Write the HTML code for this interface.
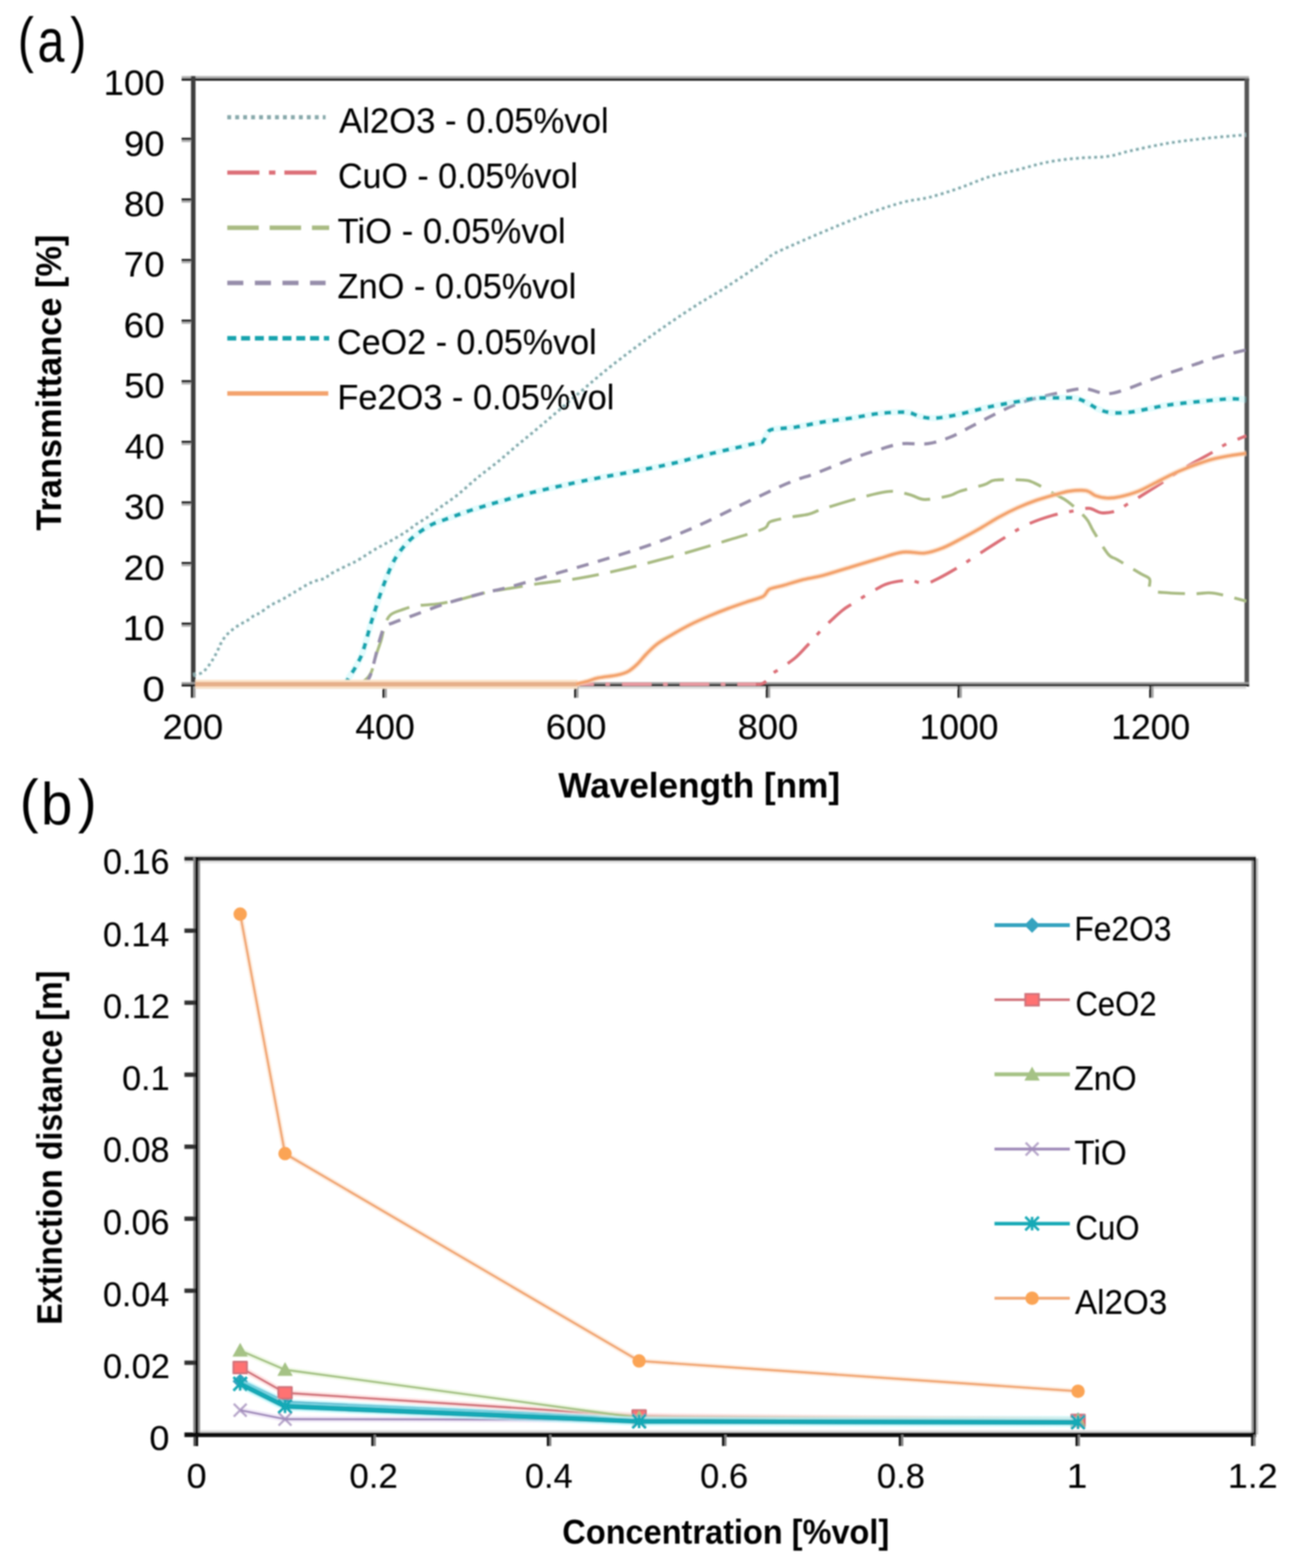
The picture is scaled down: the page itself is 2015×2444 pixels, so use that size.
<!DOCTYPE html>
<html lang="en"><head><meta charset="utf-8"><title>Transmittance and extinction distance of nanofluids</title>
<style>
html,body{margin:0;padding:0;background:#fff;}
body{width:2015px;height:2444px;overflow:hidden;}
svg{display:block;font-family:"Liberation Sans",Arial,sans-serif;}
</style></head><body>
<svg width="2015" height="2444" viewBox="0 0 2015 2444">
<defs><filter id="soft" x="0" y="0" width="2015" height="2444" filterUnits="userSpaceOnUse"><feGaussianBlur stdDeviation="1.1"/></filter></defs>
<rect width="2015" height="2444" fill="#ffffff"/>
<g filter="url(#soft)">
<g stroke-linejoin="round">
<rect x="283.00" y="118.60" width="1663.50" height="3.40" fill="#adadad"/>
<rect x="283.00" y="122.00" width="1663.50" height="3.70" fill="#161616"/>
<rect x="1939.50" y="122.00" width="7.00" height="947.80" fill="#555555"/>
<rect x="297.60" y="118.60" width="7.10" height="951.20" fill="#3d3d3d"/>
<rect x="297.60" y="1069.80" width="3.60" height="17.80" fill="#101010"/>
<rect x="301.20" y="1069.80" width="3.50" height="17.80" fill="#999999"/>
<rect x="283.00" y="1063.30" width="1663.50" height="3.70" fill="#9c9c9c"/>
<rect x="283.00" y="1066.60" width="1663.50" height="3.40" fill="#1a1a1a"/>
<rect x="304.70" y="1069.80" width="1637.30" height="3.90" fill="#dddddd"/>
<rect x="283.00" y="214.76" width="14.60" height="3.60" fill="#1c1c1c"/>
<rect x="283.00" y="218.36" width="14.60" height="3.10" fill="#b0b0b0"/>
<rect x="283.00" y="309.22" width="14.60" height="3.60" fill="#1c1c1c"/>
<rect x="283.00" y="312.82" width="14.60" height="3.10" fill="#b0b0b0"/>
<rect x="283.00" y="403.68" width="14.60" height="3.60" fill="#1c1c1c"/>
<rect x="283.00" y="407.28" width="14.60" height="3.10" fill="#b0b0b0"/>
<rect x="283.00" y="498.14" width="14.60" height="3.60" fill="#1c1c1c"/>
<rect x="283.00" y="501.74" width="14.60" height="3.10" fill="#b0b0b0"/>
<rect x="283.00" y="592.60" width="14.60" height="3.60" fill="#1c1c1c"/>
<rect x="283.00" y="596.20" width="14.60" height="3.10" fill="#b0b0b0"/>
<rect x="283.00" y="687.06" width="14.60" height="3.60" fill="#1c1c1c"/>
<rect x="283.00" y="690.66" width="14.60" height="3.10" fill="#b0b0b0"/>
<rect x="283.00" y="781.52" width="14.60" height="3.60" fill="#1c1c1c"/>
<rect x="283.00" y="785.12" width="14.60" height="3.10" fill="#b0b0b0"/>
<rect x="283.00" y="875.98" width="14.60" height="3.60" fill="#1c1c1c"/>
<rect x="283.00" y="879.58" width="14.60" height="3.10" fill="#b0b0b0"/>
<rect x="283.00" y="970.44" width="14.60" height="3.60" fill="#1c1c1c"/>
<rect x="283.00" y="974.04" width="14.60" height="3.10" fill="#b0b0b0"/>
<rect x="596.10" y="1069.80" width="3.40" height="17.80" fill="#161616"/>
<rect x="599.50" y="1069.80" width="3.40" height="17.80" fill="#a0a0a0"/>
<rect x="894.80" y="1069.80" width="3.40" height="17.80" fill="#161616"/>
<rect x="898.20" y="1069.80" width="3.40" height="17.80" fill="#a0a0a0"/>
<rect x="1193.50" y="1069.80" width="3.40" height="17.80" fill="#161616"/>
<rect x="1196.90" y="1069.80" width="3.40" height="17.80" fill="#a0a0a0"/>
<rect x="1492.20" y="1069.80" width="3.40" height="17.80" fill="#161616"/>
<rect x="1495.60" y="1069.80" width="3.40" height="17.80" fill="#a0a0a0"/>
<rect x="1790.90" y="1069.80" width="3.40" height="17.80" fill="#161616"/>
<rect x="1794.30" y="1069.80" width="3.40" height="17.80" fill="#a0a0a0"/>
<path d="M301.0,1052.0C303.3,1051.5 311.0,1050.6 314.6,1048.7C318.2,1046.8 320.2,1043.5 322.6,1040.7C325.0,1037.9 327.0,1035.0 329.0,1032.0C331.0,1029.0 332.9,1026.1 334.7,1022.8C336.5,1019.5 338.2,1015.9 339.9,1012.4C341.6,1008.9 342.9,1005.2 344.8,1001.8C346.7,998.3 349.0,994.7 351.4,991.7C353.8,988.7 356.5,986.3 359.2,983.9C361.9,981.5 364.8,979.4 367.8,977.3C370.8,975.2 374.2,973.3 377.3,971.5C380.4,969.7 383.5,968.4 386.6,966.4C389.7,964.4 392.9,961.3 396.1,959.4C399.3,957.5 401.8,957.4 405.9,954.8C410.0,952.2 415.3,947.5 421.0,944.0C426.7,940.5 433.8,937.6 440.1,934.1C446.4,930.6 451.0,927.6 458.6,923.2C466.2,918.8 478.0,911.2 485.9,907.6C493.8,904.0 501.1,903.7 506.0,901.5C510.9,899.3 509.9,897.6 515.4,894.4C520.9,891.2 532.4,885.7 539.2,882.3C546.0,878.9 548.4,878.5 556.1,874.1C563.8,869.7 577.3,860.5 585.3,855.8C593.3,851.1 596.3,850.0 604.0,845.7C611.7,841.4 623.8,834.6 631.4,829.8C639.0,824.9 643.4,820.7 649.4,816.6C655.4,812.5 661.7,809.4 667.4,805.4C673.1,801.4 676.5,797.8 683.8,792.4C691.1,787.0 701.2,780.7 711.2,772.8C721.2,764.9 732.8,753.9 743.7,744.9C754.6,735.9 767.2,726.8 776.8,719.0C786.4,711.2 791.8,706.0 801.3,698.0C810.8,690.0 823.0,680.2 834.0,671.0C845.0,661.8 854.3,653.8 867.0,643.0C879.7,632.2 895.6,618.2 910.0,606.0C924.4,593.8 935.7,583.7 953.5,569.7C971.3,555.7 995.7,537.3 1016.8,522.2C1037.9,507.1 1061.0,491.5 1080.2,479.0C1099.4,466.5 1114.1,458.8 1132.0,447.3C1149.9,435.8 1175.6,418.5 1187.8,410.0C1200.0,401.5 1196.3,401.2 1205.0,396.2C1213.7,391.2 1224.5,386.9 1240.0,380.0C1255.5,373.1 1278.7,363.0 1298.0,355.0C1317.3,347.0 1337.6,338.5 1356.0,331.8C1374.4,325.1 1392.8,319.1 1408.3,315.0C1423.8,310.9 1434.4,311.1 1448.9,307.4C1463.4,303.7 1479.8,298.3 1495.3,293.0C1510.8,287.7 1526.2,280.3 1541.7,275.5C1557.2,270.7 1572.5,267.9 1588.0,264.0C1603.5,260.1 1619.0,255.2 1634.5,252.3C1650.0,249.4 1665.5,247.9 1681.0,246.5C1696.5,245.1 1713.8,245.5 1727.3,243.6C1740.8,241.7 1746.5,238.4 1762.0,235.0C1777.5,231.6 1800.7,226.5 1820.0,223.3C1839.3,220.1 1857.7,218.0 1878.0,215.8C1898.3,213.6 1931.3,211.0 1942.0,210.0" fill="none" stroke="#c8f2f4" stroke-width="7" stroke-dasharray="4.5 5" opacity="0.5"/>
<path d="M301.0,1052.0C303.3,1051.5 311.0,1050.6 314.6,1048.7C318.2,1046.8 320.2,1043.5 322.6,1040.7C325.0,1037.9 327.0,1035.0 329.0,1032.0C331.0,1029.0 332.9,1026.1 334.7,1022.8C336.5,1019.5 338.2,1015.9 339.9,1012.4C341.6,1008.9 342.9,1005.2 344.8,1001.8C346.7,998.3 349.0,994.7 351.4,991.7C353.8,988.7 356.5,986.3 359.2,983.9C361.9,981.5 364.8,979.4 367.8,977.3C370.8,975.2 374.2,973.3 377.3,971.5C380.4,969.7 383.5,968.4 386.6,966.4C389.7,964.4 392.9,961.3 396.1,959.4C399.3,957.5 401.8,957.4 405.9,954.8C410.0,952.2 415.3,947.5 421.0,944.0C426.7,940.5 433.8,937.6 440.1,934.1C446.4,930.6 451.0,927.6 458.6,923.2C466.2,918.8 478.0,911.2 485.9,907.6C493.8,904.0 501.1,903.7 506.0,901.5C510.9,899.3 509.9,897.6 515.4,894.4C520.9,891.2 532.4,885.7 539.2,882.3C546.0,878.9 548.4,878.5 556.1,874.1C563.8,869.7 577.3,860.5 585.3,855.8C593.3,851.1 596.3,850.0 604.0,845.7C611.7,841.4 623.8,834.6 631.4,829.8C639.0,824.9 643.4,820.7 649.4,816.6C655.4,812.5 661.7,809.4 667.4,805.4C673.1,801.4 676.5,797.8 683.8,792.4C691.1,787.0 701.2,780.7 711.2,772.8C721.2,764.9 732.8,753.9 743.7,744.9C754.6,735.9 767.2,726.8 776.8,719.0C786.4,711.2 791.8,706.0 801.3,698.0C810.8,690.0 823.0,680.2 834.0,671.0C845.0,661.8 854.3,653.8 867.0,643.0C879.7,632.2 895.6,618.2 910.0,606.0C924.4,593.8 935.7,583.7 953.5,569.7C971.3,555.7 995.7,537.3 1016.8,522.2C1037.9,507.1 1061.0,491.5 1080.2,479.0C1099.4,466.5 1114.1,458.8 1132.0,447.3C1149.9,435.8 1175.6,418.5 1187.8,410.0C1200.0,401.5 1196.3,401.2 1205.0,396.2C1213.7,391.2 1224.5,386.9 1240.0,380.0C1255.5,373.1 1278.7,363.0 1298.0,355.0C1317.3,347.0 1337.6,338.5 1356.0,331.8C1374.4,325.1 1392.8,319.1 1408.3,315.0C1423.8,310.9 1434.4,311.1 1448.9,307.4C1463.4,303.7 1479.8,298.3 1495.3,293.0C1510.8,287.7 1526.2,280.3 1541.7,275.5C1557.2,270.7 1572.5,267.9 1588.0,264.0C1603.5,260.1 1619.0,255.2 1634.5,252.3C1650.0,249.4 1665.5,247.9 1681.0,246.5C1696.5,245.1 1713.8,245.5 1727.3,243.6C1740.8,241.7 1746.5,238.4 1762.0,235.0C1777.5,231.6 1800.7,226.5 1820.0,223.3C1839.3,220.1 1857.7,218.0 1878.0,215.8C1898.3,213.6 1931.3,211.0 1942.0,210.0" fill="none" stroke="#88a9ab" stroke-width="4.0" stroke-dasharray="4.5 5" />
<path d="M301,1066.6L1178,1066.6" fill="none" stroke="#e79aa1" stroke-width="5.5" stroke-dasharray="46 18 7 18.85" stroke-dashoffset="50.35"/>
<path d="M1178.0,1066.6C1179.3,1066.5 1183.5,1066.9 1186.0,1066.2C1188.5,1065.5 1190.8,1064.2 1193.0,1062.5C1195.2,1060.8 1197.0,1058.2 1199.0,1056.0C1201.0,1053.8 1202.2,1051.3 1205.0,1049.0C1207.8,1046.7 1210.2,1046.0 1216.0,1042.0C1221.8,1038.0 1232.9,1030.9 1240.0,1024.8C1247.1,1018.7 1251.5,1013.1 1258.7,1005.5C1265.9,997.9 1274.1,987.9 1283.0,979.0C1291.9,970.1 1304.5,958.3 1312.0,952.0C1319.5,945.7 1319.6,946.5 1327.8,941.3C1336.0,936.1 1352.3,926.0 1361.0,921.0C1369.7,916.0 1373.2,913.5 1379.7,911.0C1386.2,908.5 1393.3,907.0 1400.0,906.0C1406.7,905.0 1413.1,904.4 1420.0,905.0C1426.9,905.6 1434.6,910.1 1441.6,909.6C1448.6,909.1 1452.7,906.3 1461.8,901.8C1470.9,897.3 1484.5,889.5 1496.0,882.5C1507.5,875.5 1519.7,867.2 1531.0,860.0C1542.3,852.8 1552.5,846.0 1564.0,839.0C1575.5,832.0 1587.3,823.9 1600.0,818.0C1612.7,812.1 1626.7,807.3 1640.0,803.5C1653.3,799.7 1670.3,796.9 1680.0,795.0C1689.7,793.1 1691.9,791.7 1698.0,792.4C1704.1,793.1 1709.6,798.6 1716.6,799.3C1723.5,800.0 1733.0,798.6 1739.7,796.4C1746.4,794.1 1751.5,789.1 1757.0,785.8C1762.5,782.4 1764.6,781.3 1772.8,776.3C1781.0,771.2 1794.7,762.8 1806.0,755.5C1817.3,748.2 1829.2,739.5 1840.5,732.5C1851.8,725.5 1865.4,718.4 1873.6,713.8C1881.8,709.2 1883.7,708.4 1889.4,705.0C1895.1,701.6 1899.2,697.9 1908.0,693.6C1916.8,689.3 1936.3,681.6 1942.0,679.2" fill="none" stroke="#dc6f78" stroke-width="4.8" stroke-dasharray="46 18 7 18.85" stroke-dashoffset="28.85"/>
<path d="M550.7,1066.0C553.1,1065.5 560.5,1065.8 565.0,1063.0C569.5,1060.2 574.6,1055.6 578.0,1049.0C581.4,1042.4 582.6,1032.0 585.3,1023.4C588.0,1014.8 591.6,1005.7 594.0,997.5C596.4,989.3 597.3,980.9 599.7,974.4C602.1,967.9 604.0,962.5 608.3,958.6C612.6,954.7 618.9,953.2 625.6,950.8C632.3,948.4 639.1,945.8 648.7,944.2C658.3,942.6 672.7,942.8 683.2,941.3C693.8,939.8 700.0,938.4 712.0,935.5C724.0,932.6 744.2,926.6 755.2,924.0C766.2,921.4 764.1,922.1 778.3,919.7C792.5,917.3 819.6,912.7 840.6,909.6C861.6,906.5 882.9,904.6 904.0,901.0C925.1,897.4 947.2,892.6 967.4,888.0C987.6,883.4 1005.8,878.6 1025.0,873.6C1044.2,868.6 1064.4,863.1 1082.6,857.8C1100.8,852.5 1116.7,847.5 1134.4,842.0C1152.1,836.5 1178.0,829.5 1189.0,824.7C1200.0,819.9 1193.5,816.1 1200.7,813.0C1207.9,809.9 1222.1,807.9 1232.0,806.0C1241.9,804.1 1251.5,803.8 1260.0,801.6C1268.5,799.4 1269.7,797.3 1283.2,793.0C1296.7,788.7 1324.5,780.1 1340.8,775.7C1357.1,771.3 1370.9,768.0 1381.0,766.5C1391.1,765.0 1394.6,766.0 1401.3,767.0C1408.0,768.0 1414.7,770.3 1421.4,772.2C1428.1,774.1 1432.0,778.5 1441.6,778.6C1451.2,778.7 1469.9,775.0 1479.0,772.8C1488.1,770.6 1487.2,768.5 1496.3,765.6C1505.4,762.7 1524.7,758.4 1533.8,755.5C1542.9,752.6 1540.9,749.5 1551.0,748.3C1561.1,747.1 1584.2,747.6 1594.3,748.3C1604.4,749.0 1603.3,749.0 1611.5,752.6C1619.7,756.2 1634.5,765.2 1643.2,770.0C1651.9,774.8 1655.2,775.2 1663.4,781.4C1671.6,787.6 1685.5,799.7 1692.2,807.4C1698.9,815.1 1698.0,818.1 1703.7,827.5C1709.5,836.9 1720.5,856.0 1726.7,863.5C1732.9,871.0 1732.6,867.2 1741.0,872.2C1749.4,877.2 1768.6,888.8 1777.0,893.8C1785.4,898.8 1788.8,898.1 1791.5,902.4C1794.2,906.7 1788.2,916.1 1793.0,919.7C1797.8,923.3 1809.0,923.0 1820.3,924.0C1831.6,925.0 1850.0,925.5 1860.6,925.5C1871.2,925.5 1876.5,923.8 1883.7,924.0C1890.9,924.2 1894.1,924.7 1903.8,926.9C1913.5,929.1 1935.6,935.3 1942.0,937.0" fill="none" stroke="#a9bb83" stroke-width="4.6" stroke-dasharray="42 18" />
<path d="M570.0,1066.0C571.1,1063.9 574.5,1059.3 576.7,1053.6C578.9,1047.9 580.4,1041.8 583.0,1032.0C585.6,1022.2 589.7,1003.7 592.5,994.6C595.3,985.5 596.1,981.4 599.7,977.3C603.3,973.2 606.4,973.2 614.1,970.1C621.8,967.0 634.8,962.7 645.8,958.6C656.8,954.5 669.3,949.5 680.3,945.6C691.3,941.8 699.5,939.1 712.0,935.5C724.5,931.9 741.0,927.6 755.2,924.0C769.4,920.4 778.4,919.1 797.4,914.0C816.4,908.9 845.4,900.2 869.4,893.2C893.4,886.2 917.4,879.6 941.4,872.2C965.4,864.9 990.0,857.5 1013.5,849.1C1037.0,840.7 1060.0,831.6 1082.6,821.8C1105.1,811.9 1128.2,799.9 1148.8,790.0C1169.4,780.1 1191.2,769.7 1206.4,762.7C1221.6,755.8 1230.1,752.1 1240.0,748.3C1249.9,744.5 1256.2,743.3 1266.0,739.7C1275.8,736.1 1287.5,731.3 1299.0,726.7C1310.5,722.1 1323.2,716.6 1335.0,712.3C1346.8,708.0 1357.8,704.2 1369.6,700.8C1381.4,697.3 1392.9,693.1 1405.6,691.6C1418.3,690.1 1433.5,693.3 1446.0,691.6C1458.5,689.9 1469.2,686.0 1480.5,681.5C1491.8,677.0 1502.6,670.5 1513.6,664.8C1524.6,659.1 1535.7,653.0 1546.7,647.5C1557.8,642.0 1568.6,636.2 1579.9,631.7C1591.2,627.2 1602.4,624.0 1614.4,620.7C1626.4,617.4 1639.4,614.5 1651.9,612.0C1664.4,609.5 1677.2,605.5 1689.3,605.8C1701.4,606.1 1713.2,613.6 1724.4,613.7C1735.6,613.8 1745.2,609.7 1756.3,606.2C1767.4,602.7 1779.4,597.2 1791.0,592.8C1802.6,588.4 1814.4,584.0 1826.0,580.0C1837.6,576.0 1849.1,572.4 1860.7,568.5C1872.3,564.6 1882.0,560.8 1895.5,556.9C1909.0,553.0 1934.2,547.2 1942.0,545.3" fill="none" stroke="#968daa" stroke-width="5.0" stroke-dasharray="19 15" />
<path d="M537.8,1066.0C539.0,1064.0 542.4,1058.2 545.0,1054.0C547.6,1049.8 550.5,1046.3 553.6,1040.7C556.7,1035.1 560.8,1027.7 563.7,1020.5C566.6,1013.3 568.5,1005.7 570.9,997.5C573.3,989.3 575.7,979.7 578.1,971.5C580.5,963.3 582.7,956.6 585.3,948.5C587.9,940.4 591.0,930.8 593.9,922.6C596.8,914.4 599.7,906.7 602.6,899.5C605.5,892.3 608.1,885.6 611.2,879.4C614.3,873.2 617.0,868.1 621.3,862.1C625.6,856.1 631.6,848.9 637.1,843.4C642.6,837.9 648.4,833.3 654.4,829.0C660.4,824.7 666.9,820.6 673.1,817.5C679.4,814.4 685.4,812.7 691.9,810.3C698.4,807.9 705.3,805.4 712.0,803.0C718.7,800.6 725.0,798.3 732.2,795.9C739.4,793.5 747.5,791.0 755.2,788.7C762.9,786.4 765.5,785.6 778.3,782.0C791.1,778.4 809.1,772.6 832.0,767.0C854.9,761.4 890.0,753.6 915.5,748.3C941.0,743.0 962.6,739.7 984.7,735.4C1006.8,731.1 1027.1,727.2 1048.0,722.4C1068.9,717.6 1088.9,711.7 1110.0,706.6C1131.1,701.5 1161.5,694.7 1174.7,691.6C1187.9,688.5 1185.2,691.1 1189.0,687.8C1192.8,684.5 1194.4,675.2 1197.8,672.0C1201.2,668.8 1202.3,669.5 1209.3,668.5C1216.3,667.5 1227.7,667.5 1240.0,665.7C1252.3,663.9 1268.8,659.9 1283.2,657.6C1297.6,655.3 1312.0,654.0 1326.4,651.8C1340.8,649.6 1355.2,646.1 1369.6,644.6C1384.0,643.1 1402.2,641.9 1412.8,642.6C1423.4,643.3 1425.8,647.5 1433.0,649.0C1440.2,650.5 1445.9,652.3 1456.0,651.8C1466.1,651.3 1479.1,649.0 1493.5,646.0C1507.9,643.0 1527.1,637.3 1542.4,634.0C1557.8,630.7 1573.6,628.2 1585.6,626.0C1597.6,623.8 1602.9,621.7 1614.4,620.7C1625.9,619.7 1644.4,620.2 1654.7,620.2C1665.0,620.2 1669.8,619.5 1676.3,620.7C1682.8,621.9 1687.8,624.6 1693.6,627.4C1699.4,630.2 1704.7,634.8 1710.9,637.4C1717.1,640.0 1722.8,642.3 1731.0,643.2C1739.2,644.1 1750.2,643.6 1759.8,642.6C1769.4,641.6 1779.0,639.2 1788.6,637.4C1798.2,635.6 1807.8,633.2 1817.4,631.7C1827.0,630.2 1836.6,629.3 1846.2,628.2C1855.8,627.1 1865.4,626.2 1875.0,625.3C1884.6,624.3 1895.6,623.1 1903.8,622.5C1912.0,621.9 1917.6,621.5 1924.0,621.6C1930.4,621.7 1939.0,622.8 1942.0,623.0" fill="none" stroke="#9af3f7" stroke-width="10" opacity="0.28"/>
<path d="M537.8,1066.0C539.0,1064.0 542.4,1058.2 545.0,1054.0C547.6,1049.8 550.5,1046.3 553.6,1040.7C556.7,1035.1 560.8,1027.7 563.7,1020.5C566.6,1013.3 568.5,1005.7 570.9,997.5C573.3,989.3 575.7,979.7 578.1,971.5C580.5,963.3 582.7,956.6 585.3,948.5C587.9,940.4 591.0,930.8 593.9,922.6C596.8,914.4 599.7,906.7 602.6,899.5C605.5,892.3 608.1,885.6 611.2,879.4C614.3,873.2 617.0,868.1 621.3,862.1C625.6,856.1 631.6,848.9 637.1,843.4C642.6,837.9 648.4,833.3 654.4,829.0C660.4,824.7 666.9,820.6 673.1,817.5C679.4,814.4 685.4,812.7 691.9,810.3C698.4,807.9 705.3,805.4 712.0,803.0C718.7,800.6 725.0,798.3 732.2,795.9C739.4,793.5 747.5,791.0 755.2,788.7C762.9,786.4 765.5,785.6 778.3,782.0C791.1,778.4 809.1,772.6 832.0,767.0C854.9,761.4 890.0,753.6 915.5,748.3C941.0,743.0 962.6,739.7 984.7,735.4C1006.8,731.1 1027.1,727.2 1048.0,722.4C1068.9,717.6 1088.9,711.7 1110.0,706.6C1131.1,701.5 1161.5,694.7 1174.7,691.6C1187.9,688.5 1185.2,691.1 1189.0,687.8C1192.8,684.5 1194.4,675.2 1197.8,672.0C1201.2,668.8 1202.3,669.5 1209.3,668.5C1216.3,667.5 1227.7,667.5 1240.0,665.7C1252.3,663.9 1268.8,659.9 1283.2,657.6C1297.6,655.3 1312.0,654.0 1326.4,651.8C1340.8,649.6 1355.2,646.1 1369.6,644.6C1384.0,643.1 1402.2,641.9 1412.8,642.6C1423.4,643.3 1425.8,647.5 1433.0,649.0C1440.2,650.5 1445.9,652.3 1456.0,651.8C1466.1,651.3 1479.1,649.0 1493.5,646.0C1507.9,643.0 1527.1,637.3 1542.4,634.0C1557.8,630.7 1573.6,628.2 1585.6,626.0C1597.6,623.8 1602.9,621.7 1614.4,620.7C1625.9,619.7 1644.4,620.2 1654.7,620.2C1665.0,620.2 1669.8,619.5 1676.3,620.7C1682.8,621.9 1687.8,624.6 1693.6,627.4C1699.4,630.2 1704.7,634.8 1710.9,637.4C1717.1,640.0 1722.8,642.3 1731.0,643.2C1739.2,644.1 1750.2,643.6 1759.8,642.6C1769.4,641.6 1779.0,639.2 1788.6,637.4C1798.2,635.6 1807.8,633.2 1817.4,631.7C1827.0,630.2 1836.6,629.3 1846.2,628.2C1855.8,627.1 1865.4,626.2 1875.0,625.3C1884.6,624.3 1895.6,623.1 1903.8,622.5C1912.0,621.9 1917.6,621.5 1924.0,621.6C1930.4,621.7 1939.0,622.8 1942.0,623.0" fill="none" stroke="#17a3ad" stroke-width="5.7" stroke-dasharray="10 10.5" />
<path d="M304.5,1066.6L900.0,1066.6" fill="none" stroke="#fbe3c9" stroke-width="14" />
<path d="M304.5,1066.6L903.0,1066.6" fill="none" stroke="#e6b08a" stroke-width="7" />
<path d="M898.0,1066.0C900.8,1065.3 909.2,1063.6 915.0,1062.0C920.8,1060.4 925.0,1058.1 932.8,1056.5C940.6,1054.9 953.9,1053.9 961.6,1052.2C969.3,1050.5 973.7,1049.3 979.0,1046.4C984.3,1043.5 988.5,1039.6 993.3,1035.0C998.1,1030.4 1002.4,1024.3 1007.7,1019.0C1013.0,1013.7 1018.3,1008.2 1025.0,1003.2C1031.7,998.2 1039.4,993.8 1048.0,988.8C1056.6,983.8 1067.2,977.8 1076.8,973.0C1086.4,968.2 1096.0,964.1 1105.6,960.0C1115.2,955.9 1124.8,952.1 1134.4,948.5C1144.0,944.9 1154.1,941.5 1163.2,938.4C1172.3,935.3 1183.0,933.1 1189.0,929.8C1195.0,926.4 1193.9,921.2 1199.2,918.3C1204.5,915.4 1212.4,914.9 1220.8,912.5C1229.2,910.1 1239.2,906.5 1249.6,903.9C1260.0,901.3 1270.4,900.1 1283.2,896.7C1296.0,893.3 1312.0,888.0 1326.4,883.7C1340.8,879.4 1356.2,874.6 1369.6,870.7C1383.0,866.9 1395.0,862.1 1407.0,860.6C1419.0,859.1 1431.0,863.2 1441.6,862.0C1452.2,860.8 1460.8,857.3 1470.4,853.5C1480.0,849.7 1489.6,844.0 1499.2,839.0C1508.8,834.0 1518.4,828.7 1528.0,823.2C1537.6,817.7 1547.2,811.3 1556.8,806.0C1566.4,800.7 1576.0,795.8 1585.6,791.5C1595.2,787.2 1604.8,783.4 1614.4,780.0C1624.0,776.6 1634.6,773.8 1643.2,771.4C1651.8,769.0 1658.1,766.7 1666.3,765.6C1674.5,764.5 1685.2,763.5 1692.2,764.7C1699.2,765.9 1702.5,770.9 1708.0,772.8C1713.5,774.7 1719.1,776.1 1725.3,776.3C1731.5,776.5 1737.2,776.0 1745.4,774.2C1753.6,772.4 1764.6,769.4 1774.2,765.6C1783.8,761.8 1793.4,756.0 1803.0,751.2C1812.6,746.4 1822.2,741.1 1831.8,736.8C1841.4,732.5 1851.0,728.8 1860.6,725.3C1870.2,721.8 1879.8,718.3 1889.4,715.8C1899.0,713.2 1909.4,711.5 1918.2,710.0C1927.0,708.5 1938.0,707.2 1942.0,706.6" fill="none" stroke="#fbd3b4" stroke-width="9" opacity="0.6"/>
<path d="M898.0,1066.0C900.8,1065.3 909.2,1063.6 915.0,1062.0C920.8,1060.4 925.0,1058.1 932.8,1056.5C940.6,1054.9 953.9,1053.9 961.6,1052.2C969.3,1050.5 973.7,1049.3 979.0,1046.4C984.3,1043.5 988.5,1039.6 993.3,1035.0C998.1,1030.4 1002.4,1024.3 1007.7,1019.0C1013.0,1013.7 1018.3,1008.2 1025.0,1003.2C1031.7,998.2 1039.4,993.8 1048.0,988.8C1056.6,983.8 1067.2,977.8 1076.8,973.0C1086.4,968.2 1096.0,964.1 1105.6,960.0C1115.2,955.9 1124.8,952.1 1134.4,948.5C1144.0,944.9 1154.1,941.5 1163.2,938.4C1172.3,935.3 1183.0,933.1 1189.0,929.8C1195.0,926.4 1193.9,921.2 1199.2,918.3C1204.5,915.4 1212.4,914.9 1220.8,912.5C1229.2,910.1 1239.2,906.5 1249.6,903.9C1260.0,901.3 1270.4,900.1 1283.2,896.7C1296.0,893.3 1312.0,888.0 1326.4,883.7C1340.8,879.4 1356.2,874.6 1369.6,870.7C1383.0,866.9 1395.0,862.1 1407.0,860.6C1419.0,859.1 1431.0,863.2 1441.6,862.0C1452.2,860.8 1460.8,857.3 1470.4,853.5C1480.0,849.7 1489.6,844.0 1499.2,839.0C1508.8,834.0 1518.4,828.7 1528.0,823.2C1537.6,817.7 1547.2,811.3 1556.8,806.0C1566.4,800.7 1576.0,795.8 1585.6,791.5C1595.2,787.2 1604.8,783.4 1614.4,780.0C1624.0,776.6 1634.6,773.8 1643.2,771.4C1651.8,769.0 1658.1,766.7 1666.3,765.6C1674.5,764.5 1685.2,763.5 1692.2,764.7C1699.2,765.9 1702.5,770.9 1708.0,772.8C1713.5,774.7 1719.1,776.1 1725.3,776.3C1731.5,776.5 1737.2,776.0 1745.4,774.2C1753.6,772.4 1764.6,769.4 1774.2,765.6C1783.8,761.8 1793.4,756.0 1803.0,751.2C1812.6,746.4 1822.2,741.1 1831.8,736.8C1841.4,732.5 1851.0,728.8 1860.6,725.3C1870.2,721.8 1879.8,718.3 1889.4,715.8C1899.0,713.2 1909.4,711.5 1918.2,710.0C1927.0,708.5 1938.0,707.2 1942.0,706.6" fill="none" stroke="#f3a36d" stroke-width="4.6" />
</g>
<text transform="translate(161.53,148.10) scale(1.0175,1.0000)" font-size="56.00" stroke="#050505" stroke-width="0.2" fill="#050505">100</text>
<text transform="translate(193.14,242.56) scale(1.0177,1.0000)" font-size="56.00" stroke="#050505" stroke-width="0.2" fill="#050505">90</text>
<text transform="translate(193.14,337.02) scale(1.0177,1.0000)" font-size="56.00" stroke="#050505" stroke-width="0.2" fill="#050505">80</text>
<text transform="translate(192.84,431.48) scale(1.0226,1.0000)" font-size="56.00" stroke="#050505" stroke-width="0.2" fill="#050505">70</text>
<text transform="translate(192.84,525.94) scale(1.0226,1.0000)" font-size="56.00" stroke="#050505" stroke-width="0.2" fill="#050505">60</text>
<text transform="translate(193.43,620.40) scale(1.0128,1.0000)" font-size="56.00" stroke="#050505" stroke-width="0.2" fill="#050505">50</text>
<text transform="translate(194.59,714.86) scale(0.9936,1.0000)" font-size="56.00" stroke="#050505" stroke-width="0.2" fill="#050505">40</text>
<text transform="translate(193.43,809.32) scale(1.0128,1.0000)" font-size="56.00" stroke="#050505" stroke-width="0.2" fill="#050505">30</text>
<text transform="translate(192.84,903.78) scale(1.0226,1.0000)" font-size="56.00" stroke="#050505" stroke-width="0.2" fill="#050505">20</text>
<text transform="translate(191.30,998.24) scale(1.0482,1.0000)" font-size="56.00" stroke="#050505" stroke-width="0.2" fill="#050505">10</text>
<text transform="translate(221.90,1092.70) scale(1.1161,1.0000)" font-size="56.00" stroke="#050505" stroke-width="0.2" fill="#050505">0</text>
<text transform="translate(253.22,1151.60) scale(1.0090,1.0000)" font-size="56.14" stroke="#050505" stroke-width="0.2" fill="#050505">200</text>
<text transform="translate(553.64,1151.60) scale(0.9902,1.0000)" font-size="56.14" stroke="#050505" stroke-width="0.2" fill="#050505">400</text>
<text transform="translate(850.62,1151.60) scale(1.0090,1.0000)" font-size="56.14" stroke="#050505" stroke-width="0.2" fill="#050505">600</text>
<text transform="translate(1149.61,1151.60) scale(1.0058,1.0000)" font-size="56.14" stroke="#050505" stroke-width="0.2" fill="#050505">800</text>
<text transform="translate(1432.95,1151.60) scale(0.9853,1.0000)" font-size="56.14" stroke="#050505" stroke-width="0.2" fill="#050505">1000</text>
<text transform="translate(1731.65,1151.60) scale(0.9853,1.0000)" font-size="56.14" stroke="#050505" stroke-width="0.2" fill="#050505">1200</text>
<text transform="translate(870.10,1242.80) scale(0.9894,1.0000)" font-size="55.36" font-weight="bold" fill="#050505">Wavelength [nm]</text>
<text transform="translate(95.00,827.04) rotate(-90) scale(0.9780,1)" font-size="54.78" font-weight="bold" fill="#050505">Transmittance [%]</text>
<text transform="scale(0.8000,1)" x="34.73 73.11 136.78" y="94.30 96.40 94.30" font-size="94.00" fill="#050505">(a)</text>
<line x1="354.20" y1="182.80" x2="507.40" y2="182.80" stroke="#88a9ab" stroke-width="6.5" stroke-dasharray="6 6.4"/>
<text transform="translate(528.50,207.10) scale(0.9726,1.0000)" font-size="55.51" stroke="#050505" stroke-width="0.2" fill="#050505">Al2O3 - 0.05%vol</text>
<line x1="354.20" y1="268.90" x2="494.30" y2="268.90" stroke="#dc6f78" stroke-width="6.5" stroke-dasharray="50 15 10 14"/>
<text transform="translate(526.85,293.20) scale(0.9540,1.0000)" font-size="55.51" stroke="#050505" stroke-width="0.2" fill="#050505">CuO - 0.05%vol</text>
<line x1="354.20" y1="355.00" x2="513.00" y2="355.00" stroke="#a9bb83" stroke-width="7" stroke-dasharray="49 17"/>
<text transform="translate(525.92,379.30) scale(0.9743,1.0000)" font-size="55.51" stroke="#050505" stroke-width="0.2" fill="#050505">TiO - 0.05%vol</text>
<line x1="354.20" y1="441.10" x2="507.40" y2="441.10" stroke="#968daa" stroke-width="7" stroke-dasharray="25 18"/>
<text transform="translate(525.99,465.40) scale(0.9650,1.0000)" font-size="55.51" stroke="#050505" stroke-width="0.2" fill="#050505">ZnO - 0.05%vol</text>
<line x1="354.20" y1="527.20" x2="513.00" y2="527.20" stroke="#17a3ad" stroke-width="7" stroke-dasharray="14 7.5"/>
<text transform="translate(525.34,551.50) scale(0.9572,1.0000)" font-size="55.51" stroke="#050505" stroke-width="0.2" fill="#050505">CeO2 - 0.05%vol</text>
<line x1="354.20" y1="613.30" x2="511.60" y2="613.30" stroke="#f3a36d" stroke-width="7" />
<text transform="translate(525.71,637.60) scale(0.9651,1.0000)" font-size="55.51" stroke="#050505" stroke-width="0.2" fill="#050505">Fe2O3 - 0.05%vol</text>
<g stroke-linejoin="round">
<rect x="287.40" y="1331.80" width="1669.70" height="3.30" fill="#f0f0f0"/>
<rect x="287.40" y="1341.80" width="1666.60" height="3.70" fill="#e6e6e6"/>
<rect x="287.40" y="1335.00" width="1669.70" height="6.90" fill="#2e2e2e"/>
<rect x="1950.20" y="1341.80" width="3.90" height="891.20" fill="#999999"/>
<rect x="1957.10" y="1338.00" width="3.70" height="898.00" fill="#c8c8c8"/>
<rect x="1953.80" y="1338.00" width="3.60" height="902.00" fill="#000000"/>
<rect x="301.10" y="1335.10" width="3.90" height="904.90" fill="#8a8a8a"/>
<rect x="308.30" y="1341.80" width="3.60" height="891.20" fill="#8f8f8f"/>
<rect x="304.60" y="1335.10" width="4.10" height="918.90" fill="#000000"/>
<rect x="301.50" y="2240.00" width="3.50" height="14.00" fill="#555555"/>
<rect x="311.90" y="2229.30" width="1638.30" height="3.70" fill="#dedede"/>
<rect x="287.40" y="2232.80" width="1669.70" height="7.10" fill="#111111"/>
<rect x="287.40" y="1447.24" width="17.60" height="6.80" fill="#303030"/>
<rect x="287.40" y="1559.47" width="17.60" height="6.80" fill="#303030"/>
<rect x="287.40" y="1671.71" width="17.60" height="6.80" fill="#303030"/>
<rect x="287.40" y="1783.95" width="17.60" height="6.80" fill="#303030"/>
<rect x="287.40" y="1896.19" width="17.60" height="6.80" fill="#303030"/>
<rect x="287.40" y="2008.43" width="17.60" height="6.80" fill="#303030"/>
<rect x="287.40" y="2120.66" width="17.60" height="6.80" fill="#303030"/>
<rect x="578.70" y="2236.30" width="3.80" height="17.60" fill="#0a0a0a"/>
<rect x="582.50" y="2236.30" width="3.20" height="17.60" fill="#808080"/>
<rect x="852.20" y="2236.30" width="3.80" height="17.60" fill="#0a0a0a"/>
<rect x="856.00" y="2236.30" width="3.20" height="17.60" fill="#808080"/>
<rect x="1125.20" y="2236.30" width="3.80" height="17.60" fill="#0a0a0a"/>
<rect x="1129.00" y="2236.30" width="3.20" height="17.60" fill="#808080"/>
<rect x="1400.70" y="2236.30" width="3.80" height="17.60" fill="#0a0a0a"/>
<rect x="1404.50" y="2236.30" width="3.20" height="17.60" fill="#808080"/>
<rect x="1676.10" y="2236.30" width="3.80" height="17.60" fill="#0a0a0a"/>
<rect x="1679.90" y="2236.30" width="3.20" height="17.60" fill="#808080"/>
<rect x="1949.70" y="2236.30" width="3.80" height="17.60" fill="#0a0a0a"/>
<rect x="1953.50" y="2236.30" width="3.20" height="17.60" fill="#808080"/>
<path d="M374.3,2153.0L444.2,2187.0L996.0,2212.0L1680.0,2213.5" fill="none" stroke="#b5f3fa" stroke-width="13" opacity="0.6"/>
<path d="M374.3,2153.0L444.2,2187.0L996.0,2212.0L1680.0,2213.5" fill="none" stroke="#36a3bf" stroke-width="7" />
<path d="M374.3,2141L386.3,2153L374.3,2165L362.3,2153Z" fill="#36a3bf"/>
<path d="M444.2,2175L456.2,2187L444.2,2199L432.2,2187Z" fill="#36a3bf"/>
<path d="M996,2200L1008,2212L996,2224L984,2212Z" fill="#36a3bf"/>
<path d="M1680,2201.5L1692,2213.5L1680,2225.5L1668,2213.5Z" fill="#36a3bf"/>
<path d="M374.3,2131.4L444.2,2171.0L996.0,2207.0L1680.0,2214.0" fill="none" stroke="#ffd0d0" stroke-width="9.3" opacity="0.6"/>
<path d="M374.3,2131.4L444.2,2171.0L996.0,2207.0L1680.0,2214.0" fill="none" stroke="#d0727a" stroke-width="3.3" />
<rect x="363.8" y="2122.4" width="21.0" height="18.0" fill="#ff7272" stroke="#d0727a" stroke-width="3"/>
<rect x="433.7" y="2162.0" width="21.0" height="18.0" fill="#ff7272" stroke="#d0727a" stroke-width="3"/>
<rect x="985.5" y="2198.0" width="21.0" height="18.0" fill="#ff7272" stroke="#d0727a" stroke-width="3"/>
<rect x="1669.5" y="2205.0" width="21.0" height="18.0" fill="#ff7272" stroke="#d0727a" stroke-width="3"/>
<path d="M374.3,2105.0L444.2,2135.0L996.0,2210.0L1680.0,2214.0" fill="none" stroke="#e6f5d5" stroke-width="9.3" opacity="0.6"/>
<path d="M374.3,2105.0L444.2,2135.0L996.0,2210.0L1680.0,2214.0" fill="none" stroke="#a5c285" stroke-width="3.3" />
<path d="M374.3,2093L386.3,2114.6L362.3,2114.6Z" fill="#a5c285"/>
<path d="M444.2,2123L456.2,2144.6L432.2,2144.6Z" fill="#a5c285"/>
<path d="M996,2198L1008,2219.6L984,2219.6Z" fill="#a5c285"/>
<path d="M1680,2202L1692,2223.6L1668,2223.6Z" fill="#a5c285"/>
<path d="M374.3,2198.0L444.2,2212.0L996.0,2213.0L1680.0,2215.0" fill="none" stroke="#e8daf3" stroke-width="9.3" opacity="0.6"/>
<path d="M374.3,2198.0L444.2,2212.0L996.0,2213.0L1680.0,2215.0" fill="none" stroke="#a08bba" stroke-width="3.3" />
<path d="M364.3,2188L384.3,2208M364.3,2208L384.3,2188" stroke="#a08bba" stroke-width="3.5" fill="none" opacity="0.75"/>
<path d="M434.2,2202L454.2,2222M434.2,2222L454.2,2202" stroke="#a08bba" stroke-width="3.5" fill="none" opacity="0.75"/>
<path d="M986,2203L1006,2223M986,2223L1006,2203" stroke="#a08bba" stroke-width="3.5" fill="none" opacity="0.75"/>
<path d="M1670,2205L1690,2225M1670,2225L1690,2205" stroke="#a08bba" stroke-width="3.5" fill="none" opacity="0.75"/>
<path d="M374.3,2157.0L444.2,2192.0L996.0,2215.5L1680.0,2217.0" fill="none" stroke="#aef6fb" stroke-width="14" opacity="0.6"/>
<path d="M374.3,2157.0L444.2,2192.0L996.0,2215.5L1680.0,2217.0" fill="none" stroke="#12a9b6" stroke-width="8" />
<path d="M363.8,2146.5L384.8,2167.5M363.8,2167.5L384.8,2146.5M374.3,2146.5L374.3,2167.5" stroke="#12a9b6" stroke-width="4" fill="none"/>
<path d="M433.7,2181.5L454.7,2202.5M433.7,2202.5L454.7,2181.5M444.2,2181.5L444.2,2202.5" stroke="#12a9b6" stroke-width="4" fill="none"/>
<path d="M985.5,2205.0L1006.5,2226.0M985.5,2226.0L1006.5,2205.0M996,2205.0L996,2226.0" stroke="#12a9b6" stroke-width="4" fill="none"/>
<path d="M1669.5,2206.5L1690.5,2227.5M1669.5,2227.5L1690.5,2206.5M1680,2206.5L1680,2227.5" stroke="#12a9b6" stroke-width="4" fill="none"/>
<path d="M374.3,1424.8L444.2,1798.1L996.0,2121.3L1680.0,2168.5" fill="none" stroke="#fde3cb" stroke-width="8.6" opacity="0.6"/>
<path d="M374.3,1424.8L444.2,1798.1L996.0,2121.3L1680.0,2168.5" fill="none" stroke="#f1a876" stroke-width="3.6" />
<circle cx="374.3" cy="1424.8" r="10.5" fill="#fba455"/>
<circle cx="444.2" cy="1798.1" r="10.5" fill="#fba455"/>
<circle cx="996" cy="2121.3" r="10.5" fill="#fba455"/>
<circle cx="1680" cy="2168.5" r="10.5" fill="#fba455"/>
</g>
<text transform="translate(160.57,1362.40) scale(0.9757,1.0000)" font-size="54.57" stroke="#050505" stroke-width="0.2" fill="#050505">0.16</text>
<text transform="translate(160.58,1474.64) scale(0.9705,1.0000)" font-size="54.57" stroke="#050505" stroke-width="0.2" fill="#050505">0.14</text>
<text transform="translate(160.56,1586.88) scale(0.9809,1.0000)" font-size="54.57" stroke="#050505" stroke-width="0.2" fill="#050505">0.12</text>
<text transform="translate(190.16,1699.11) scale(0.9787,1.0000)" font-size="54.57" stroke="#050505" stroke-width="0.2" fill="#050505">0.1</text>
<text transform="translate(160.57,1811.35) scale(0.9757,1.0000)" font-size="54.57" stroke="#050505" stroke-width="0.2" fill="#050505">0.08</text>
<text transform="translate(160.57,1923.59) scale(0.9757,1.0000)" font-size="54.57" stroke="#050505" stroke-width="0.2" fill="#050505">0.06</text>
<text transform="translate(160.58,2035.83) scale(0.9705,1.0000)" font-size="54.57" stroke="#050505" stroke-width="0.2" fill="#050505">0.04</text>
<text transform="translate(160.56,2148.06) scale(0.9809,1.0000)" font-size="54.57" stroke="#050505" stroke-width="0.2" fill="#050505">0.02</text>
<text transform="translate(232.75,2260.30) scale(1.0308,1.0000)" font-size="54.57" stroke="#050505" stroke-width="0.2" fill="#050505">0</text>
<text transform="translate(290.75,2318.50) scale(1.0308,1.0000)" font-size="54.57" stroke="#050505" stroke-width="0.2" fill="#050505">0</text>
<text transform="translate(544.58,2318.50) scale(0.9938,1.0000)" font-size="54.57" stroke="#050505" stroke-width="0.2" fill="#050505">0.2</text>
<text transform="translate(818.11,2318.50) scale(0.9787,1.0000)" font-size="54.57" stroke="#050505" stroke-width="0.2" fill="#050505">0.4</text>
<text transform="translate(1091.10,2318.50) scale(0.9862,1.0000)" font-size="54.57" stroke="#050505" stroke-width="0.2" fill="#050505">0.6</text>
<text transform="translate(1366.60,2318.50) scale(0.9862,1.0000)" font-size="54.57" stroke="#050505" stroke-width="0.2" fill="#050505">0.8</text>
<text transform="translate(1662.59,2318.50) scale(1.0531,1.0000)" font-size="54.57" stroke="#050505" stroke-width="0.2" fill="#050505">1</text>
<text transform="translate(1913.57,2318.50) scale(1.0213,1.0000)" font-size="54.57" stroke="#050505" stroke-width="0.2" fill="#050505">1.2</text>
<text transform="translate(876.37,2405.70) scale(0.9448,1.0000)" font-size="53.62" font-weight="bold" fill="#050505">Concentration [%vol]</text>
<text transform="translate(96.20,2064.86) rotate(-90) scale(0.9162,1)" font-size="54.78" font-weight="bold" fill="#050505">Extinction distance [m]</text>
<text transform="scale(0.9500,1)" x="32.31 67.22 127.53" y="1280.50 1284.90 1280.50" font-size="93.00" fill="#050505">(b)</text>
<line x1="1549.80" y1="1442.00" x2="1667.20" y2="1442.00" stroke="#36a3bf" stroke-width="6" />
<path d="M1608.4,1430.0L1620.4,1442.0L1608.4,1454.0L1596.4,1442.0Z" fill="#36a3bf"/>
<text transform="translate(1674.34,1466.30) scale(0.9371,1.0000)" font-size="52.75" stroke="#050505" stroke-width="0.2" fill="#050505">Fe2O3</text>
<line x1="1549.80" y1="1558.30" x2="1667.20" y2="1558.30" stroke="#d0727a" stroke-width="4" />
<rect x="1597.9" y="1549.3" width="21.0" height="18.0" fill="#ff7272" stroke="#d0727a" stroke-width="3"/>
<text transform="translate(1675.88,1582.60) scale(0.9176,1.0000)" font-size="52.75" stroke="#050505" stroke-width="0.2" fill="#050505">CeO2</text>
<line x1="1549.80" y1="1674.60" x2="1667.20" y2="1674.60" stroke="#a5c285" stroke-width="6" />
<path d="M1608.4,1662.6L1620.4,1684.1999999999998L1596.4,1684.1999999999998Z" fill="#a5c285"/>
<text transform="translate(1673.69,1698.90) scale(0.9534,1.0000)" font-size="52.75" stroke="#050505" stroke-width="0.2" fill="#050505">ZnO</text>
<line x1="1549.80" y1="1790.90" x2="1667.20" y2="1790.90" stroke="#a08bba" stroke-width="4.5" />
<path d="M1598.4,1780.9L1618.4,1800.9M1598.4,1800.9L1618.4,1780.9" stroke="#a08bba" stroke-width="3.5" fill="none" opacity="0.75"/>
<text transform="translate(1674.16,1815.20) scale(0.9850,1.0000)" font-size="52.75" stroke="#050505" stroke-width="0.2" fill="#050505">TiO</text>
<line x1="1549.80" y1="1907.20" x2="1667.20" y2="1907.20" stroke="#12a9b6" stroke-width="5.5" />
<path d="M1597.9,1896.7L1618.9,1917.7M1597.9,1917.7L1618.9,1896.7M1608.4,1896.7L1608.4,1917.7" stroke="#12a9b6" stroke-width="4" fill="none"/>
<text transform="translate(1675.87,1931.50) scale(0.9227,1.0000)" font-size="52.75" stroke="#050505" stroke-width="0.2" fill="#050505">CuO</text>
<line x1="1549.80" y1="2023.50" x2="1667.20" y2="2023.50" stroke="#f1a876" stroke-width="4.5" />
<circle cx="1608.4" cy="2023.5" r="10.5" fill="#fba455"/>
<text transform="translate(1675.20,2047.80) scale(0.9810,1.0000)" font-size="52.75" stroke="#050505" stroke-width="0.2" fill="#050505">Al2O3</text>
</g>
</svg>
</body></html>
